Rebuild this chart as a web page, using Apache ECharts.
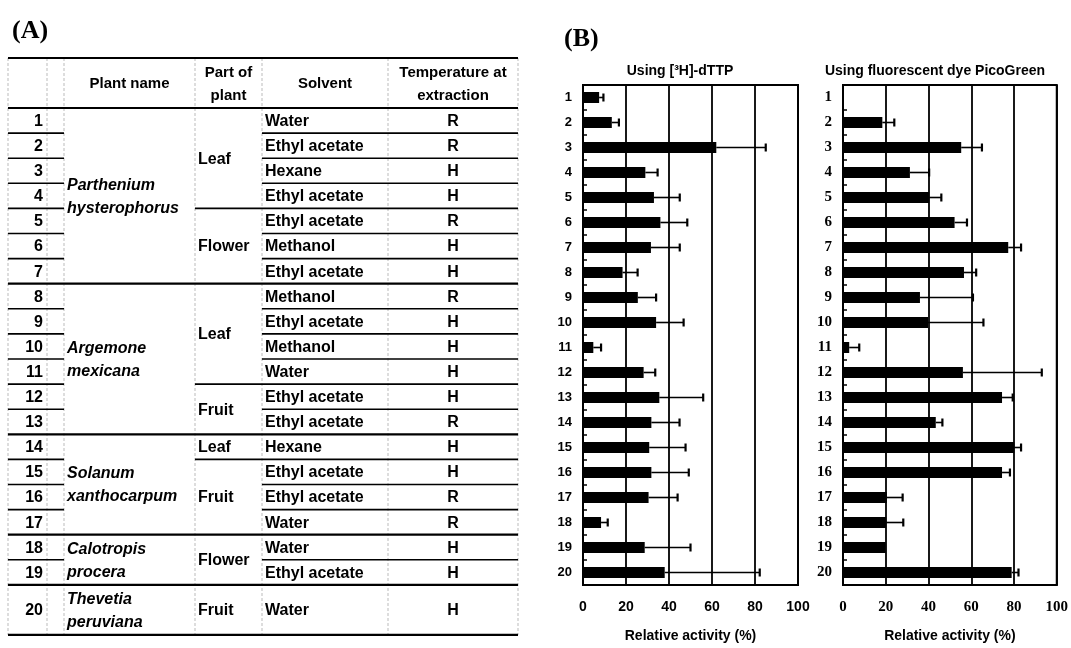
<!DOCTYPE html>
<html>
<head>
<meta charset="utf-8">
<script src="https://cdn.jsdelivr.net/npm/echarts@6/dist/echarts.min.js"></script>
<style>
html,body{margin:0;padding:0;background:#fff;}
#main{width:1071px;height:648px;}
</style>
</head>
<body>
<div id="main"></div>
<script>
// ---------- DATA ----------
const ids = ['1','2','3','4','5','6','7','8','9','10','11','12','13','14','15','16','17','18','19','20'];
const plantGroups = [
  ['Parthenium', 'hysterophorus', 1, 7],
  ['Argemone', 'mexicana', 8, 13],
  ['Solanum', 'xanthocarpum', 14, 17],
  ['Calotropis', 'procera', 18, 19],
  ['Thevetia', 'peruviana', 20, 20]
];
const partGroups = [
  ['Leaf', 1, 4], ['Flower', 5, 7], ['Leaf', 8, 11], ['Fruit', 12, 13],
  ['Leaf', 14, 14], ['Fruit', 15, 17], ['Flower', 18, 19], ['Fruit', 20, 20]
];
const solvents = ['Water','Ethyl acetate','Hexane','Ethyl acetate','Ethyl acetate','Methanol','Ethyl acetate',
  'Methanol','Ethyl acetate','Methanol','Water','Ethyl acetate','Ethyl acetate',
  'Hexane','Ethyl acetate','Ethyl acetate','Water','Water','Ethyl acetate','Water'];
const temps = ['R','R','H','H','R','H','H','R','H','H','H','H','R','H','H','R','R','H','H','H'];
const headers = ['Plant name', 'Part of\nplant', 'Solvent', 'Temperature at\nextraction'];

// (B) relative activity (%) and error (SD, one-sided)
const dttpValues = [7.5, 13.4, 62, 29, 33, 36, 31.6, 18.4, 25.5, 34, 4.8, 28.2, 35.5, 31.8, 30.8, 31.8, 30.5, 8.4, 28.7, 38];
const dttpErrors = [2, 3.3, 23, 5.7, 12, 12.5, 13.4, 7, 8.5, 12.8, 3.6, 5.4, 20.4, 13.1, 16.9, 17.4, 13.5, 3.1, 21.3, 44.2];
const picoValues = [0, 18.4, 55.3, 31.3, 40.3, 52.2, 77.3, 56.6, 36, 39.8, 2.9, 56.1, 74.4, 43.4, 80.1, 74.4, 20.5, 20.2, 20, 78.9];
const picoErrors = [0, 5.6, 9.7, 9, 5.7, 5.8, 6, 5.7, 24.8, 25.9, 4.7, 36.9, 5, 3.1, 3.2, 3.7, 7.4, 8, 0, 3.2];
const xTicks = [0, 20, 40, 60, 80, 100];

// ---------- TABLE LAYOUT ----------
const colX = [8, 47, 64, 195, 262, 388, 518];
const tableTop = 58, headTop = 108, rowH = 25.1, lastRowH = 50;
function rowTop(i){ return headTop + (i - 1) * rowH; }
function rowBottom(i){ return i === 20 ? rowTop(20) + lastRowH : rowTop(i) + rowH; }
function rowMid(a, b){ return (rowTop(a) + rowBottom(b)) / 2; }
const SANS = '"Liberation Sans", Arial, sans-serif';
const SERIF = '"Liberation Serif", "Times New Roman", serif';

const g = [];
function hline(x1, x2, y, w){ g.push({type:'line', silent:true, shape:{x1:x1, y1:y, x2:x2, y2:y}, style:{stroke:'#000', lineWidth:w}}); }
function txt(x, y, text, opt){
  g.push({type:'text', silent:true, x:x, y:y, style:Object.assign({text:text, fill:'#000', font:'bold 16px ' + SANS, textAlign:'left', textVerticalAlign:'middle'}, opt||{})});
}
// vertical faint lines
colX.forEach(function(x){
  g.push({type:'line', silent:true, shape:{x1:x, y1:tableTop, x2:x, y2:rowBottom(20)}, style:{stroke:'#bbb', lineWidth:1, lineDash:[3,2]}});
});
hline(colX[0], colX[6], tableTop, 2.2);
hline(colX[0], colX[6], headTop, 2.2);
// header
const hx = [(colX[2]+colX[3])/2, (colX[3]+colX[4])/2, (colX[4]+colX[5])/2, (colX[5]+colX[6])/2];
headers.forEach(function(h, k){
  txt(hx[k], (tableTop + headTop)/2 + 1, h, {textAlign:'center', font:'bold 15px ' + SANS, lineHeight:23});
});
const groupEnds = plantGroups.map(function(p){ return p[3]; });
const partEnds = partGroups.map(function(p){ return p[2]; });
for (let i = 1; i <= 20; i++) {
  const yb = rowBottom(i);
  if (groupEnds.indexOf(i) >= 0) {
    hline(colX[0], colX[6], yb, 2.2);
  } else {
    hline(colX[0], colX[2], yb, 1.6);
    if (partEnds.indexOf(i) >= 0) hline(colX[3], colX[6], yb, 1.6);
    else hline(colX[4], colX[6], yb, 1.6);
  }
  const ym = (rowTop(i) + yb) / 2 + 1;
  txt(43, ym, ids[i-1], {textAlign:'right'});
  txt(265, ym, solvents[i-1]);
  txt(453, ym, temps[i-1], {textAlign:'center'});
}
plantGroups.forEach(function(p){
  txt(67, rowMid(p[2], p[3]) + 1, p[0] + '\n' + p[1], {font:'italic bold 16px ' + SANS, lineHeight:23});
});
partGroups.forEach(function(p){
  txt(198, rowMid(p[1], p[2]) + 1, p[0]);
});
g.push({type:'text', silent:true, x:12, y:31, style:{text:'(A)', fill:'#000', font:'bold 26px ' + SERIF, textVerticalAlign:'middle'}});
g.push({type:'text', silent:true, x:564, y:39, style:{text:'(B)', fill:'#000', font:'bold 26px ' + SERIF, textVerticalAlign:'middle'}});
g.push({type:'text', silent:true, x:680, y:71, style:{text:'Using [³H]-dTTP', fill:'#000', font:'bold 14px ' + SANS, textAlign:'center', textVerticalAlign:'middle'}});
g.push({type:'text', silent:true, x:935, y:71, style:{text:'Using fluorescent dye PicoGreen', fill:'#000', font:'bold 14px ' + SANS, textAlign:'center', textVerticalAlign:'middle'}});

// ---------- CHART ----------
function errData(vals, errs){ return vals.map(function(v, i){ return [v, i, errs[i]]; }); }
function errRender(params, api){
  const e = api.value(2);
  if (!e) return null;
  const v = api.value(0), c = api.value(1);
  const p0 = api.coord([v, c]), p1 = api.coord([v + e, c]);
  const cap = 4;
  return {type:'group', children:[
    {type:'line', shape:{x1:p0[0], y1:p0[1], x2:p1[0], y2:p1[1]}, style:{stroke:'#000', lineWidth:1.6}},
    {type:'line', shape:{x1:p1[0], y1:p1[1]-cap, x2:p1[0], y2:p1[1]+cap}, style:{stroke:'#000', lineWidth:2.2}}
  ]};
}
function xAxisOpt(gi, font, size){
  return {type:'value', gridIndex:gi, min:0, max:100, interval:20,
    axisLine:{show:true, lineStyle:{color:'#000', width:2}}, axisTick:{show:false},
    splitLine:{show:true, lineStyle:{color:'#000', width:1.8}},
    axisLabel:{color:'#000', fontWeight:'bold', fontSize:size, fontFamily:font, margin:15,
      formatter:function(v){ return xTicks.indexOf(v) >= 0 ? String(v) : ''; }},
    name:'Relative activity (%)', nameLocation:'middle', nameGap:44,
    nameTextStyle:{color:'#000', fontWeight:'bold', fontSize:14, fontFamily:SANS}};
}
function yAxisOpt(gi, font, size){
  return {type:'category', gridIndex:gi, data:ids, inverse:true,
    axisLine:{show:true, lineStyle:{color:'#000', width:2}},
    axisTick:{show:true, inside:true, length:4, lineStyle:{color:'#000', width:1.5}},
    axisLabel:{color:'#000', fontWeight:'bold', fontSize:size, fontFamily:font, margin:11},
    splitLine:{show:false}};
}
const option = {
  backgroundColor:'#fff',
  animation:false,
  graphic:g,
  grid:[
    {left:583, right:273, top:85, bottom:60, show:true, borderColor:'#000', borderWidth:2},
    {left:843, right:13, top:85, bottom:60, show:true, borderColor:'#000', borderWidth:2}
  ],
  xAxis:[xAxisOpt(0, SANS, 14), xAxisOpt(1, SERIF, 15)],
  yAxis:[yAxisOpt(0, SANS, 13), yAxisOpt(1, SERIF, 15)],
  series:[
    {type:'bar', xAxisIndex:0, yAxisIndex:0, data:dttpValues, barWidth:11, itemStyle:{color:'#000'}},
    {type:'custom', xAxisIndex:0, yAxisIndex:0, data:errData(dttpValues, dttpErrors), renderItem:errRender, encode:{x:0, y:1}, z:5},
    {type:'bar', xAxisIndex:1, yAxisIndex:1, data:picoValues, barWidth:11, itemStyle:{color:'#000'}},
    {type:'custom', xAxisIndex:1, yAxisIndex:1, data:errData(picoValues, picoErrors), renderItem:errRender, encode:{x:0, y:1}, z:5}
  ]
};
const chart = echarts.init(document.getElementById('main'), null, {renderer:'canvas'});
chart.setOption(option);
</script>
</body>
</html>
